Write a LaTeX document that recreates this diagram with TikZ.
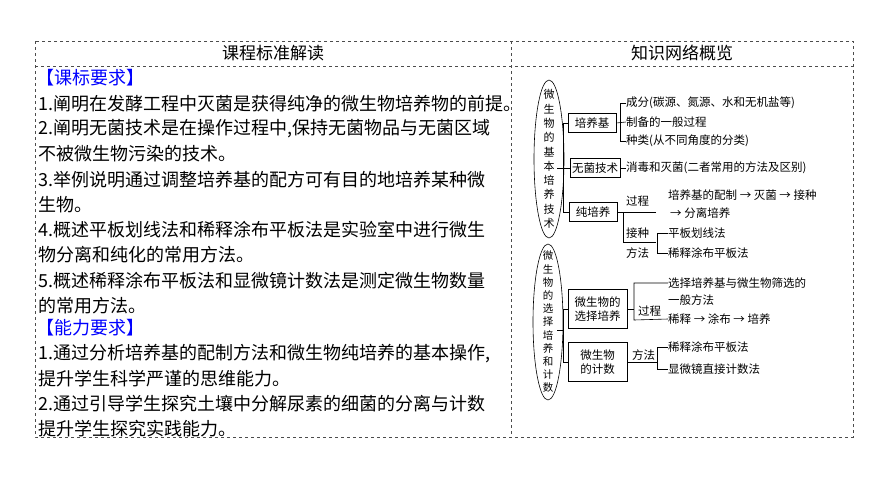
\documentclass[tikz,border=0pt]{standalone}
\usepackage{fontspec}
\setmainfont{Liberation Serif}
\newfontfamily\cjk{Noto Sans CJK SC}
\begin{document}
\begin{tikzpicture}[x=1pt,y=-1pt,
  dl/.style={draw=black!70,dashed,line width=0.6pt},
  lt/.style={anchor=west,inner sep=0,font=\fontsize{18}{18}\selectfont\cjk},
  hd/.style={inner sep=0,font=\fontsize{17}{17}\selectfont\cjk},
  rt/.style={anchor=west,inner sep=0,font=\fontsize{11.5}{11.5}\selectfont\cjk},
  bx/.style={draw,line width=0.6pt,inner sep=2pt,font=\fontsize{11.5}{13.5}\selectfont\cjk,align=center},
  ln/.style={line width=0.6pt}]
\useasboundingbox (0,0) rectangle (870,488);
\draw[dl] (35,41) rectangle (853,437);
\draw[dl] (35,66) -- (853,66);
\draw[dl] (511,41) -- (511,437);
\node[hd] (h1) at (273,53) {课程标准解读};
\node[hd] (h2) at (682,53) {知识网络概览};
\node[lt,text=blue] (k1) at (36,78) {【课标要求】};
\node[lt] (a1) at (38,104) {1.阐明在发酵工程中灭菌是获得纯净的微生物培养物的前提。};
\node[lt] (a2) at (38,129) {2.阐明无菌技术是在操作过程中,保持无菌物品与无菌区域};
\node[lt] (a3) at (38,154) {不被微生物污染的技术。};
\node[lt] (a4) at (38,180) {3.举例说明通过调整培养基的配方可有目的地培养某种微};
\node[lt] (a5) at (38,205) {生物。};
\node[lt] (a6) at (38,230) {4.概述平板划线法和稀释涂布平板法是实验室中进行微生};
\node[lt] (a7) at (38,255) {物分离和纯化的常用方法。};
\node[lt] (a8) at (38,281) {5.概述稀释涂布平板法和显微镜计数法是测定微生物数量};
\node[lt] (a9) at (38,306) {的常用方法。};
\node[lt,text=blue] (k2) at (36,328) {【能力要求】};
\node[lt] (b1) at (38,354) {1.通过分析培养基的配制方法和微生物纯培养的基本操作,};
\node[lt] (b2) at (38,379) {提升学生科学严谨的思维能力。};
\node[lt] (b3) at (38,404) {2.通过引导学生探究土壤中分解尿素的细菌的分离与计数};
\node[lt] (b4) at (38,429) {提升学生探究实践能力。};
% right
\draw[ln] (549,159) ellipse (15 and 79);
\node[align=center,inner sep=0,font=\fontsize{11}{14.3}\selectfont\cjk] (e1) at (549,159) {微\\生\\物\\的\\基\\本\\培\\养\\技\\术};
\draw[ln] (548,322) ellipse (15 and 78);
\node[align=center,inner sep=0,font=\fontsize{10.5}{13.2}\selectfont\cjk] (e2) at (548,322) {微\\生\\物\\的\\选\\择\\培\\养\\和\\计\\数};
\node[bx,minimum width=48,minimum height=19] (p1) at (592,123) {培养基};
\node[bx,minimum width=50,minimum height=19] (p2) at (595,168) {无菌技术};
\node[bx,minimum width=48,minimum height=19] (p3) at (593,212) {纯培养};
\draw[ln] (564,168) -- (557,168);
\draw[ln] (p1.west) -- (563,123) -- (563,212) -- (p3.west);
\draw[ln] (563,168) -- (p2.west);
\node[rt] (c1) at (626,103) {成分(碳源、氮源、水和无机盐等)};
\node[rt] (c2) at (626,122) {制备的一般过程};
\node[rt] (c3) at (626,141) {种类(从不同角度的分类)};
\draw[ln] (c1.west) -- (620,103) -- (620,141) -- (c3.west);
\draw[ln] (p1.east) -- (c2.west);
\node[rt] (d1) at (626,168) {消毒和灭菌(二者常用的方法及区别)};
\draw[ln] (p2.east) -- (d1.west);
\node[rt] (g1) at (626,201) {过程};
\node[rt] (g2) at (626,233) {接种};
\node[rt] (g3) at (626,253) {方法};
\draw[ln] (p3.east) -- (623,212);
\draw[ln] (656,212) -- (623,212) -- (623,242) -- (656,242);
\node[rt] (s1) at (668,195) {培养基的配制 → 灭菌 → 接种};
\node[rt] (s2) at (670,213) {→ 分离培养};
\node[rt] (t1) at (668,233) {平板划线法};
\node[rt] (t2) at (668,253) {稀释涂布平板法};
\draw[ln] (t1.west) -- (657,233) -- (657,253) -- (t2.west);
\node[bx,minimum width=59,minimum height=39] (q1) at (597.5,309) {微生物的\\选择培养};
\node[bx,minimum width=59,minimum height=39] (q2) at (597.5,362) {微生物\\的计数};
\draw[ln] (557,330) -- (563,330);
\draw[ln] (q1.west) -- (563,309) -- (563,362) -- (q2.west);
\node[rt] (u0) at (638,311) {过程};
\node[rt] (u1) at (668,283) {选择培养基与微生物筛选的};
\node[rt] (u2) at (668,300) {一般方法};
\node[rt] (u3) at (668,319) {稀释 → 涂布 → 培养};
\draw[ln] (q1.east) -- (634,309);
\draw[ln] (u1.west) -- (634,283) -- (634,320) -- (u3.west);
\node[rt] (v0) at (632,355) {方法};
\node[rt] (v1) at (668,347) {稀释涂布平板法};
\node[rt] (v2) at (668,369) {显微镜直接计数法};
\draw[ln] (q2.east) -- (657,362);
\draw[ln] (v1.west) -- (657,347) -- (657,369) -- (v2.west);
\end{tikzpicture}
\end{document}
